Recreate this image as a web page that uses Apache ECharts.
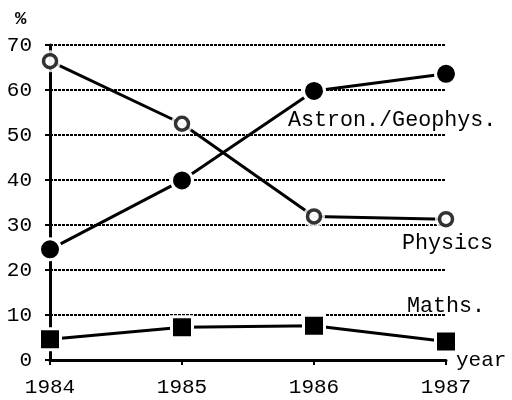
<!DOCTYPE html>
<html>
<head>
<meta charset="utf-8">
<script src="https://cdn.jsdelivr.net/npm/echarts@6/dist/echarts.min.js"></script>
<style>
  html, body { margin: 0; padding: 0; background: #fff; }
  #chart { width: 512px; height: 400px; }
</style>
</head>
<body>
<div id="chart"></div>
<script>
// data
const years = ['1984', '1985', '1986', '1987'];
const physics = [66.4, 52.5, 31.9, 31.3];
const astron = [24.6, 39.9, 59.8, 63.6];
const maths = [4.6, 7.3, 7.6, 4.1];
const yTicks = { min: 0, max: 70, interval: 10 };

const font = 'Liberation Mono';
const chart = echarts.init(document.getElementById('chart'));

chart.setOption({
  animation: false,
  grid: { left: 50, right: 66, top: 45, bottom: 40 },
  xAxis: {
    type: 'category',
    data: years,
    boundaryGap: false,
    name: 'year',
    nameLocation: 'end',
    nameGap: 10,
    nameTextStyle: { color: '#000', fontFamily: font, fontSize: 21 },
    axisLine: { lineStyle: { color: '#000', width: 3 } },
    axisTick: { show: true, length: 5, lineStyle: { color: '#000', width: 2 } },
    axisLabel: { color: '#000', fontFamily: font, fontSize: 21, margin: 17 },
    splitLine: { show: false }
  },
  yAxis: {
    type: 'value',
    min: yTicks.min,
    max: yTicks.max,
    interval: yTicks.interval,
    axisLine: { show: true, lineStyle: { color: '#000', width: 3 } },
    axisTick: { show: true, length: 5, lineStyle: { color: '#000', width: 2 } },
    axisLabel: { color: '#000', fontFamily: font, fontSize: 21, margin: 18 },
    splitLine: { lineStyle: { color: '#000', width: 2, type: [3, 1] } }
  },
  series: [
    // Physics: line, then a white halo, then the open ring on top
    {
      name: 'Physics',
      type: 'line',
      data: physics,
      showSymbol: false,
      z: 3,
      lineStyle: { color: '#000', width: 3 }
    },
    {
      type: 'scatter',
      data: physics,
      symbol: 'circle',
      symbolSize: 22,
      z: 4,
      itemStyle: { color: '#fff' }
    },
    {
      type: 'scatter',
      data: physics,
      symbol: 'circle',
      symbolSize: 13,
      z: 5,
      itemStyle: { color: '#fff', borderColor: '#000', borderWidth: 3.5 }
    },
    {
      name: 'Astron./Geophys.',
      type: 'line',
      data: astron,
      symbol: 'circle',
      symbolSize: 21,
      z: 3,
      lineStyle: { color: '#000', width: 3 },
      itemStyle: { color: '#000', borderColor: '#fff', borderWidth: 3 }
    },
    {
      name: 'Maths.',
      type: 'line',
      data: maths,
      symbol: 'rect',
      symbolSize: 21,
      z: 3,
      lineStyle: { color: '#000', width: 3 },
      itemStyle: { color: '#000', borderColor: '#fff', borderWidth: 3 }
    }
  ],
  graphic: [
    { type: 'text', left: 15, top: 10, style: { text: '%', fill: '#000', font: 'bold 19px ' + font } },
    { type: 'text', left: 288, top: 109, style: { text: 'Astron./Geophys.', fill: '#000', font: '21.7px ' + font } },
    { type: 'text', left: 402, top: 232, style: { text: 'Physics', fill: '#000', font: '21.7px ' + font } },
    { type: 'text', left: 407, top: 295, style: { text: 'Maths.', fill: '#000', font: '21.7px ' + font } }
  ]
});
</script>
</body>
</html>
